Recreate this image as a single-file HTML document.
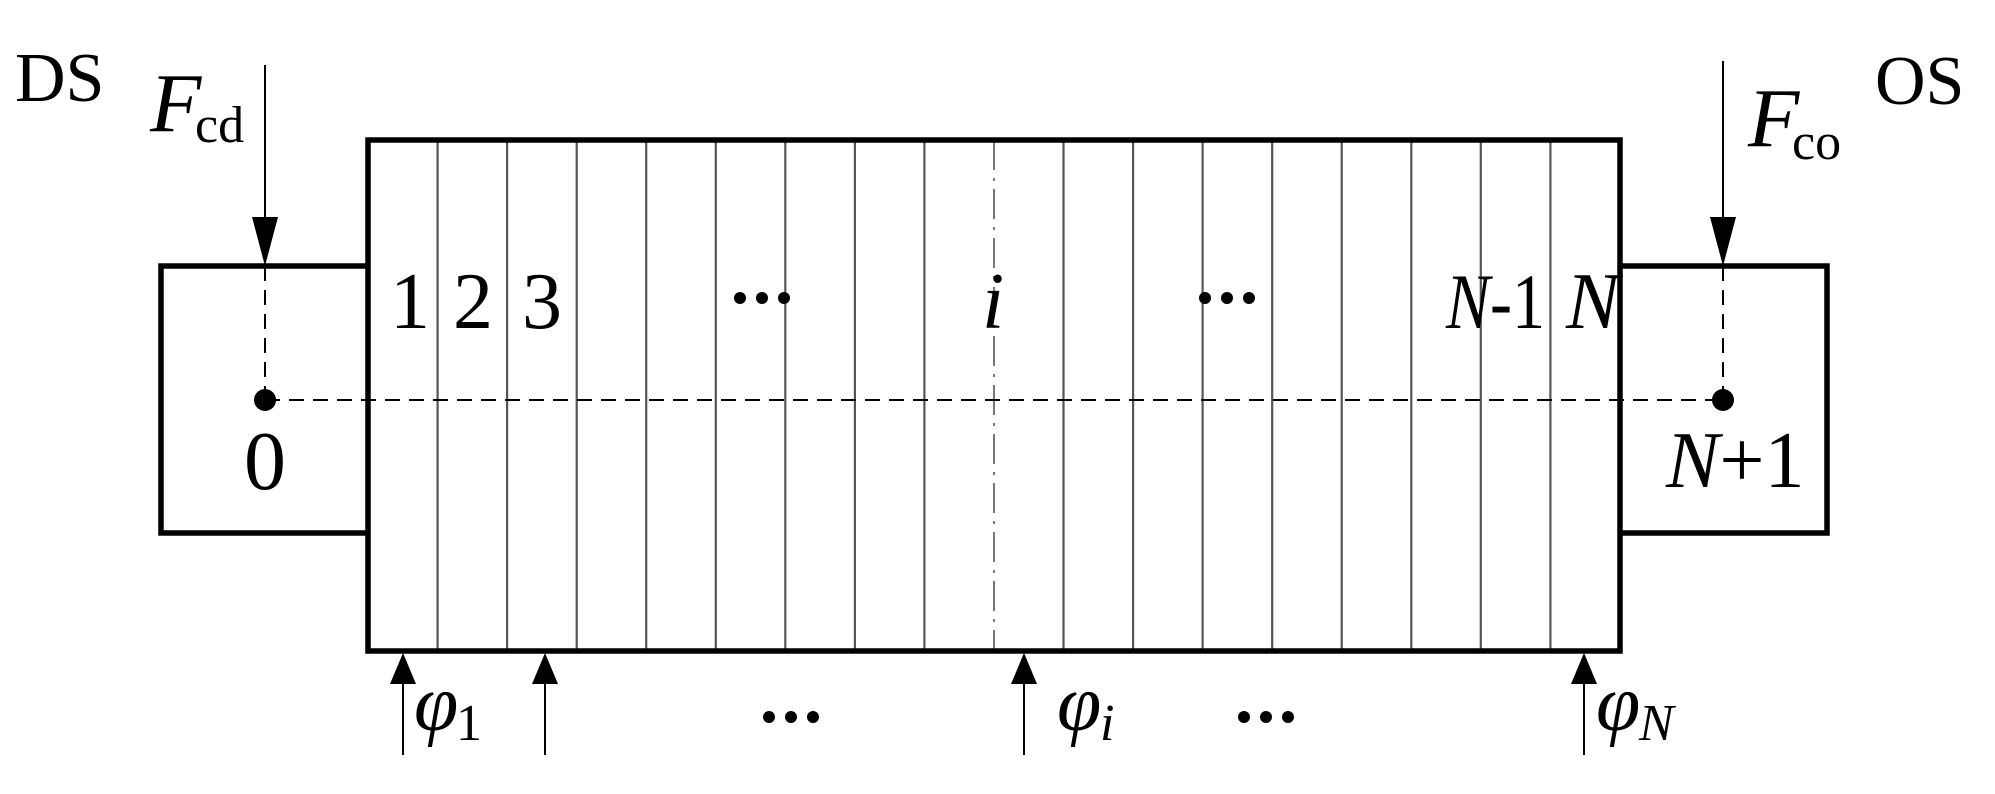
<!DOCTYPE html>
<html><head><meta charset="utf-8"><style>html,body{margin:0;padding:0;background:#fff}svg{display:block}</style></head>
<body>
<svg width="1995" height="794" viewBox="0 0 1995 794" xmlns="http://www.w3.org/2000/svg" font-family="'Liberation Serif', serif">
<rect width="1995" height="794" fill="#fff"/>
<g stroke="#555" stroke-width="2.2">
<line x1="437.6" y1="140" x2="437.6" y2="651"/>
<line x1="507.1" y1="140" x2="507.1" y2="651"/>
<line x1="576.7" y1="140" x2="576.7" y2="651"/>
<line x1="646.2" y1="140" x2="646.2" y2="651"/>
<line x1="715.8" y1="140" x2="715.8" y2="651"/>
<line x1="785.3" y1="140" x2="785.3" y2="651"/>
<line x1="854.9" y1="140" x2="854.9" y2="651"/>
<line x1="924.4" y1="140" x2="924.4" y2="651"/>
<line x1="1063.5" y1="140" x2="1063.5" y2="651"/>
<line x1="1133.1" y1="140" x2="1133.1" y2="651"/>
<line x1="1202.6" y1="140" x2="1202.6" y2="651"/>
<line x1="1272.2" y1="140" x2="1272.2" y2="651"/>
<line x1="1341.7" y1="140" x2="1341.7" y2="651"/>
<line x1="1411.3" y1="140" x2="1411.3" y2="651"/>
<line x1="1480.8" y1="140" x2="1480.8" y2="651"/>
<line x1="1550.4" y1="140" x2="1550.4" y2="651"/>
</g>
<line x1="994" y1="140" x2="994" y2="651" stroke="#777" stroke-width="2" stroke-dasharray="30,8,3,8"/>
<line x1="265" y1="400" x2="1723" y2="400" stroke="#000" stroke-width="2" stroke-dasharray="15,9"/>
<line x1="265" y1="266" x2="265" y2="400" stroke="#000" stroke-width="2" stroke-dasharray="15,9"/>
<line x1="1723" y1="266" x2="1723" y2="400" stroke="#000" stroke-width="2" stroke-dasharray="15,9"/>
<circle cx="265" cy="400" r="11"/>
<circle cx="1723" cy="400" r="11"/>
<g fill="none" stroke="#000" stroke-width="5.5">
<rect x="368" y="140" width="1252" height="511"/>
<polyline points="368,266 161,266 161,533 368,533"/>
<polyline points="1620,266 1827,266 1827,533 1620,533"/>
</g>
<line x1="265" y1="65" x2="265" y2="230" stroke="#000" stroke-width="2"/>
<polygon points="252,217 278,217 265,266"/>
<line x1="1723" y1="61" x2="1723" y2="230" stroke="#000" stroke-width="2"/>
<polygon points="1710,217 1736,217 1723,266"/>
<g stroke="#000" stroke-width="2">
<line x1="403" y1="675" x2="403" y2="755"/>
<line x1="545" y1="675" x2="545" y2="755"/>
<line x1="1024" y1="675" x2="1024" y2="755"/>
<line x1="1584" y1="675" x2="1584" y2="755"/>
</g>
<polygon points="390,684 416,684 403,653"/>
<polygon points="532,684 558,684 545,653"/>
<polygon points="1011,684 1037,684 1024,653"/>
<polygon points="1571,684 1597,684 1584,653"/>
<g>
<circle cx="740" cy="298" r="6"/><circle cx="762" cy="298" r="6"/><circle cx="784" cy="298" r="6"/>
<circle cx="1205" cy="298" r="6"/><circle cx="1227" cy="298" r="6"/><circle cx="1249" cy="298" r="6"/>
<circle cx="769" cy="717" r="6"/><circle cx="791" cy="717" r="6"/><circle cx="813" cy="717" r="6"/>
<circle cx="1244" cy="717" r="6"/><circle cx="1266" cy="717" r="6"/><circle cx="1288" cy="717" r="6"/>
</g>
<g fill="#000" font-size="80">
<text x="15" y="101" font-size="70">DS</text>
<text x="1875" y="104" font-size="70">OS</text>
<text x="150" y="131" font-size="84" font-style="italic">F</text>
<text x="195" y="142" font-size="52">cd</text>
<text x="1748" y="146" font-size="84" font-style="italic">F</text>
<text x="1792" y="159" font-size="52">co</text>
<text x="390" y="328">1</text>
<text x="453" y="328">2</text>
<text x="522" y="328">3</text>
<text x="982" y="328" font-style="italic">i</text>
<text x="1446" y="328" font-size="78" textLength="99" lengthAdjust="spacingAndGlyphs"><tspan font-style="italic">N</tspan>-1</text>
<text x="1566" y="328" font-style="italic">N</text>
<text x="265" y="489" text-anchor="middle" font-size="84">0</text>
<text x="1666" y="487"><tspan font-style="italic">N</tspan>+1</text>
<text x="414" y="730" font-style="italic">φ</text><text x="456" y="740" font-size="52">1</text>
<text x="1057" y="730" font-style="italic">φ</text><text x="1100" y="740" font-size="52" font-style="italic">i</text>
<text x="1596" y="730" font-style="italic">φ</text><text x="1639" y="740" font-size="52" font-style="italic">N</text>
</g>
</svg>
</body></html>
